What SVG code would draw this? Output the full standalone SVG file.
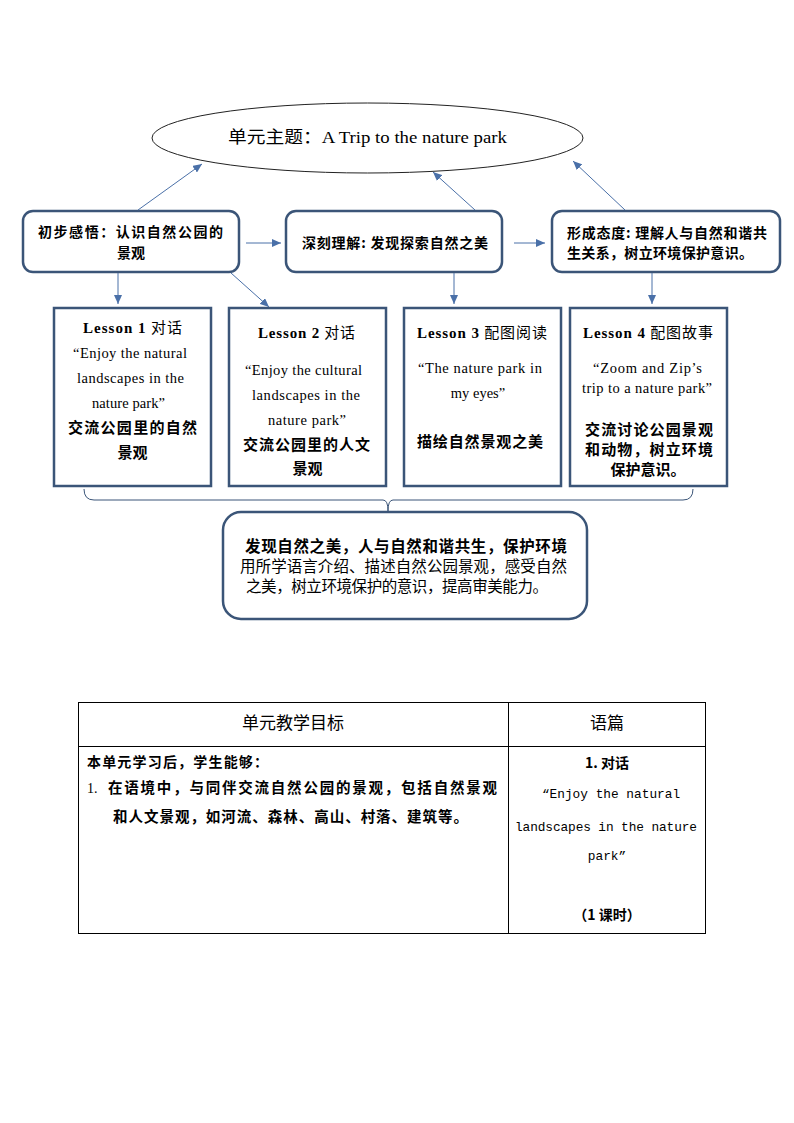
<svg xmlns="http://www.w3.org/2000/svg" width="794" height="1123" viewBox="0 0 794 1123">
<style>
.bg{fill:#fff}
.rbox{fill:#fff;stroke:#3b5578;stroke-width:2.5}
.sbox{fill:#fff;stroke:#3b5578;stroke-width:2.5}
.ell{fill:#fff;stroke:#222;stroke-width:1}
.arr{stroke:#4a70a8;stroke-width:1;fill:none;marker-end:url(#ah)}
.brace{stroke:#3b5578;stroke-width:1;fill:none}
.tbl{stroke:#000;stroke-width:1;fill:none}
.cn{font-family:"Noto Sans CJK SC","Noto Sans",sans-serif;fill:#000}
.cb{font-family:"Noto Sans CJK SC","Noto Sans",sans-serif;font-weight:bold;fill:#000}
.en{font-family:"Liberation Serif","Noto Sans CJK SC",serif;fill:#000}
.mono{font-family:"Liberation Mono","Noto Sans CJK SC",monospace;fill:#000}
.mid{text-anchor:middle}
</style>
<defs>
<marker id="ah" markerUnits="userSpaceOnUse" markerWidth="9" markerHeight="8" viewBox="0 0 9 8" refX="9" refY="4" orient="auto">
<path d="M0,0 L9,4 L0,8 z" fill="#4a70a8"/>
</marker>
</defs>
<rect class="bg" x="0" y="0" width="794" height="1123"/>

<g id="theme">
<ellipse class="ell" cx="367.5" cy="138" rx="215.5" ry="35"/>
<text class="cn" x="228" y="143" font-size="16.5" textLength="279" lengthAdjust="spacingAndGlyphs">单元主题：<tspan class="en">A Trip to the nature park</tspan></text>
</g>

<g id="stage1">
<rect class="rbox" x="23" y="211" width="216" height="61" rx="10"/>
<text class="cb" x="38" y="237" font-size="14" textLength="185">初步感悟：认识自然公园的</text>
<text class="cb mid" x="131" y="258" font-size="14">景观</text>
</g>

<g id="stage2">
<rect class="rbox" x="286" y="211" width="216" height="61" rx="10"/>
<text class="cb" x="302" y="248" font-size="14" textLength="186">深刻理解: 发现探索自然之美</text>
</g>

<g id="stage3">
<rect class="rbox" x="552" y="211" width="228" height="61" rx="10"/>
<text class="cb" x="567" y="238" font-size="14" textLength="200">形成态度: 理解人与自然和谐共</text>
<text class="cb" x="567" y="258" font-size="14" textLength="186">生关系，树立环境保护意识。</text>
</g>

<g id="lesson1">
<rect class="sbox" x="54" y="308" width="157" height="178"/>
<text x="83" y="333" font-size="15" textLength="99"><tspan class="en" font-weight="bold">Lesson 1</tspan><tspan class="cn"> 对话</tspan></text>
<text class="en" x="73" y="358" font-size="14.5" textLength="114">“Enjoy the natural</text>
<text class="en" x="77" y="383" font-size="14.5" textLength="107">landscapes in the</text>
<text class="en" x="92" y="408" font-size="14.5" textLength="73">nature park”</text>
<text class="cb" x="68" y="433" font-size="15" textLength="129">交流公园里的自然</text>
<text class="cb mid" x="132.5" y="458" font-size="15">景观</text>
</g>

<g id="lesson2">
<rect class="sbox" x="229" y="308" width="157" height="178"/>
<text x="258" y="338" font-size="15" textLength="97"><tspan class="en" font-weight="bold">Lesson 2</tspan><tspan class="cn"> 对话</tspan></text>
<text class="en" x="245" y="375" font-size="14.5" textLength="117">“Enjoy the cultural</text>
<text class="en" x="252" y="400" font-size="14.5" textLength="108">landscapes in the</text>
<text class="en" x="268" y="425" font-size="14.5" textLength="78">nature park”</text>
<text class="cb" x="243" y="450" font-size="15" textLength="127">交流公园里的人文</text>
<text class="cb mid" x="307.5" y="474" font-size="15">景观</text>
</g>

<g id="lesson3">
<rect class="sbox" x="404" y="308" width="157" height="178"/>
<text x="417" y="338" font-size="15" textLength="130"><tspan class="en" font-weight="bold">Lesson 3</tspan><tspan class="cn"> 配图阅读</tspan></text>
<text class="en" x="418" y="373" font-size="14.5" textLength="124">“The nature park in</text>
<text class="en mid" x="478" y="398" font-size="14.5">my eyes”</text>
<text class="cb" x="417" y="447" font-size="15" textLength="126">描绘自然景观之美</text>
</g>

<g id="lesson4">
<rect class="sbox" x="570" y="308" width="157" height="178"/>
<text x="583" y="338" font-size="15" textLength="130"><tspan class="en" font-weight="bold">Lesson 4</tspan><tspan class="cn"> 配图故事</tspan></text>
<text class="en" x="593" y="373" font-size="14.5" textLength="109">“Zoom and Zip’s</text>
<text class="en" x="582" y="393" font-size="14.5" textLength="130">trip to a nature park”</text>
<text class="cb" x="585" y="435" font-size="15" textLength="128">交流讨论公园景观</text>
<text class="cb" x="585" y="455" font-size="15" textLength="128">和动物，树立环境</text>
<text class="cb mid" x="648" y="475" font-size="15">保护意识。</text>
</g>

<g id="summary">
<rect class="rbox" x="223" y="512" width="364" height="107" rx="18"/>
<text class="cb" x="245" y="552" font-size="15.5" textLength="322">发现自然之美，人与自然和谐共生，保护环境</text>
<text class="cn" x="240" y="572" font-size="15.5" textLength="327">用所学语言介绍、描述自然公园景观，感受自然</text>
<text class="cn" x="246" y="592" font-size="15.5" textLength="302">之美，树立环境保护的意识，提高审美能力。</text>
</g>

<g id="connectors">
<line class="arr" x1="138" y1="210" x2="202" y2="164"/>
<line class="arr" x1="475" y1="210" x2="433" y2="172"/>
<line class="arr" x1="625" y1="210" x2="573" y2="161"/>
<line class="arr" x1="246" y1="243" x2="281" y2="243"/>
<line class="arr" x1="514" y1="243" x2="545" y2="243"/>
<line class="arr" x1="118" y1="273" x2="118" y2="304"/>
<line class="arr" x1="231" y1="273" x2="269" y2="307"/>
<line class="arr" x1="454" y1="273" x2="454" y2="304"/>
<line class="arr" x1="652" y1="273" x2="652" y2="304"/>
<path class="brace" d="M84,489 Q84,500 94,500 H383 Q388,500 388,511 Q388,500 393,500 H683 Q693,500 693,489"/>
</g>

<g id="table">
<rect class="tbl" x="78.5" y="702.5" width="627" height="231"/>
<line class="tbl" x1="78.5" y1="746.5" x2="705.5" y2="746.5"/>
<line class="tbl" x1="508.5" y1="702.5" x2="508.5" y2="933.5"/>
<text class="cn mid" x="293" y="729" font-size="17">单元教学目标</text>
<text class="cn mid" x="607" y="729" font-size="17">语篇</text>
<text class="cb" x="87" y="767" font-size="14" textLength="181">本单元学习后，学生能够：</text>
<text class="en" x="87" y="793" font-size="14">1.</text>
<text class="cb" x="108" y="793" font-size="14.5" textLength="389">在语境中，与同伴交流自然公园的景观，包括自然景观</text>
<text class="cb" x="113" y="822" font-size="14.5" textLength="355">和人文景观，如河流、森林、高山、村落、建筑等。</text>
<text class="cb mid" x="607" y="768" font-size="14">1. 对话</text>
<text class="mono mid" x="611" y="798" font-size="12.8">“Enjoy the natural</text>
<text class="mono mid" x="606" y="831" font-size="12.8" textLength="182">landscapes in the nature</text>
<text class="mono mid" x="607" y="860" font-size="12.8">park”</text>
<text class="cb mid" x="607" y="920" font-size="14">（1 课时）</text>
</g>
</svg>
